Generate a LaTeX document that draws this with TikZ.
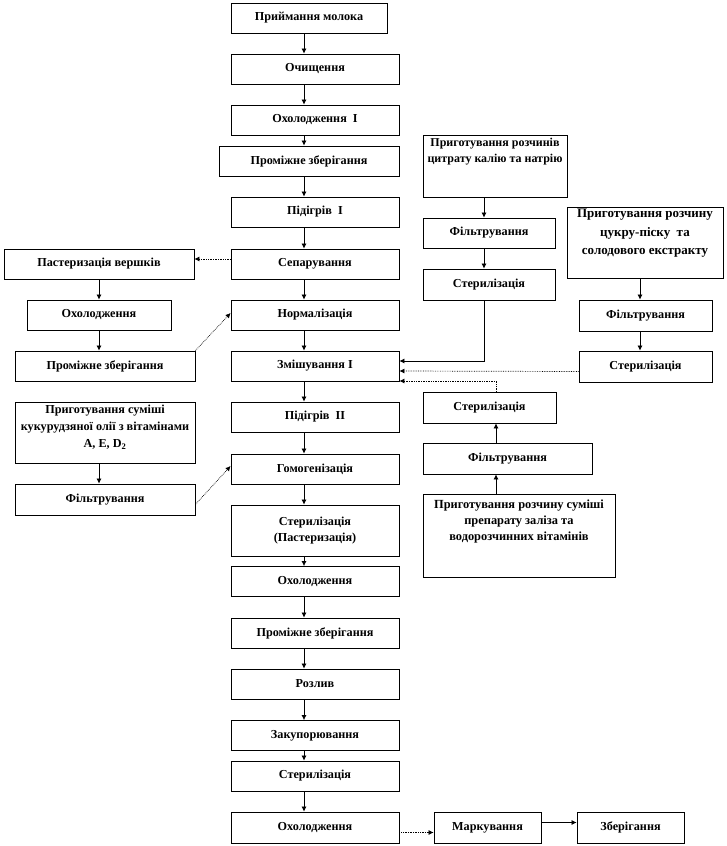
\documentclass[tikz,border=0pt]{standalone}
\usepackage{fontspec}
\setmainfont{Liberation Serif}
\usetikzlibrary{arrows.meta}
\tikzset{
  box/.style={draw=black, line width=0.8pt, fill=white, inner sep=0pt, align=center,
    font=\bfseries\fontsize{12.2}{14}\selectfont},
  arr/.style={line width=0.7pt, -{Latex[length=5pt,width=5pt]}},
  darr/.style={arr, densely dotted},
}
\newcommand{\topbox}[3]{\parbox[c][#1][t]{#2}{\centering #3}}
\begin{document}
\begin{tikzpicture}[x=1pt,y=-1pt]
\useasboundingbox (0,0) rectangle (726,846);
% axis coordinates for connectors
\coordinate (mx) at (304,0);
\coordinate (lx) at (99,0);
\coordinate (cx) at (484,0);
\coordinate (sx) at (640,0);
\coordinate (ix) at (496,0);
% main column
\node[box, minimum width=156pt, minimum height=30pt] (m1) at (309,18) {Приймання молока};
\node[box, minimum width=168pt, minimum height=30pt] (m2) at (315,69) {Очищення};
\node[box, minimum width=168pt, minimum height=30pt] (m3) at (315,120) {Охолодження\ \ І};
\node[box, minimum width=180pt, minimum height=30pt] (m4) at (309,161) {Проміжне зберігання};
\node[box, minimum width=168pt, minimum height=30pt] (m5) at (315,212) {Підігрів\ \ І};
\node[box, minimum width=168pt, minimum height=30pt] (m6) at (315,264) {Сепарування};
\node[box, minimum width=168pt, minimum height=30pt] (m7) at (315,315) {Нормалізація};
\node[box, minimum width=168pt, minimum height=30pt] (m8) at (315,366) {Змішування І};
\node[box, minimum width=168pt, minimum height=30pt] (m9) at (315,417) {Підігрів\ \ ІІ};
\node[box, minimum width=168pt, minimum height=30pt] (m10) at (315,469) {Гомогенізація};
\node[box, minimum width=168pt, minimum height=51pt] (m11) at (315,530.5) {Стерилізація\\[2pt](Пастеризація)};
\node[box, minimum width=168pt, minimum height=30pt] (m12) at (315,581.5) {Охолодження};
\node[box, minimum width=168pt, minimum height=30pt] (m13) at (315,633) {Проміжне зберігання};
\node[box, minimum width=168pt, minimum height=30pt] (m14) at (315,684) {Розлив};
\node[box, minimum width=168pt, minimum height=30pt] (m15) at (315,735.5) {Закупорювання};
\node[box, minimum width=168pt, minimum height=30pt] (m16) at (315,776) {Стерилізація};
\node[box, minimum width=168pt, minimum height=31pt] (m17) at (315,827.5) {Охолодження};
\node[box, minimum width=107pt, minimum height=31pt] (mark) at (487.5,827.5) {Маркування};
\node[box, minimum width=107pt, minimum height=31pt] (store) at (630.5,827.5) {Зберігання};
% left column
\node[box, minimum width=190pt, minimum height=30pt] (p1) at (99,264) {Пастеризація вершків};
\node[box, minimum width=144pt, minimum height=30pt] (p2) at (99,315) {Охолодження};
\node[box, minimum width=180pt, minimum height=30pt] (p3) at (105,366) {Проміжне зберігання};
\node[box, minimum width=180pt, minimum height=61pt] (o1) at (105,432.5)
  {\topbox{59pt}{178pt}{\vspace{2pt}Приготування суміші\\[3pt]кукурудзяної олії з вітамінами\\[3pt]A, E, D\textsubscript{2}}};
\node[box, minimum width=180pt, minimum height=31pt] (o2) at (105,499.5) {Фільтрування};
% right column 1
\node[box, minimum width=144pt, minimum height=62pt] (c1) at (495,166)
  {\topbox{60pt}{142pt}{\fontsize{12}{16}\selectfont\vspace{2pt}Приготування розчинів\\цитрату калію та натрію}};
\node[box, minimum width=132pt, minimum height=30pt] (c2) at (489,233) {Фільтрування};
\node[box, minimum width=132pt, minimum height=31pt] (c3) at (489,284.5) {Стерилізація};
% right column 2
\node[box, minimum width=156pt, minimum height=71pt] (s1) at (645,242.5)
  {\topbox{69pt}{154pt}{\fontsize{13}{18.5}\selectfont\vspace{1pt}Приготування розчину\\цукру-піску\ \ та\\солодового екстракту}};
\node[box, minimum width=133pt, minimum height=31pt] (s2) at (645.5,315.5) {Фільтрування};
\node[box, minimum width=133pt, minimum height=31pt] (s3) at (645.5,366.5) {Стерилізація};
% right column 1 lower
\node[box, minimum width=133pt, minimum height=31pt] (i3) at (489.5,407.5) {Стерилізація};
\node[box, minimum width=169pt, minimum height=31pt] (i2) at (507.5,458.5) {Фільтрування};
\node[box, minimum width=192pt, minimum height=83pt] (i1) at (519,535.5)
  {\topbox{81pt}{190pt}{\fontsize{12.4}{16}\selectfont\vspace{5pt}Приготування розчину суміші\\препарату заліза та\\водорозчинних вітамінів}};
% main connectors
\foreach \a/\b in {m1/m2,m2/m3,m3/m4,m4/m5,m5/m6,m6/m7,m7/m8,m8/m9,m9/m10,m10/m11,m11/m12,m12/m13,m13/m14,m14/m15,m15/m16,m16/m17}
  \draw[arr] (\a.south -| mx) -- (\b.north -| mx);
\draw[darr] ([yshift=-5pt]m17.east) -- ([yshift=-5pt]mark.west);
\draw[arr] ([yshift=5pt]mark.east) -- ([yshift=5pt]store.west);
% left connectors
\draw[darr] ([yshift=5pt]m6.west) -- ([yshift=5pt]p1.east);
\draw[arr] (p1.south -| lx) -- (p2.north -| lx);
\draw[arr] (p2.south -| lx) -- (p3.north -| lx);
\draw[darr] (p3.north east) -- ([yshift=2pt]m7.west);
\draw[arr] (o1.south -| lx) -- (o2.north -| lx);
\draw[darr] ([yshift=-5pt]o2.east) -- ([yshift=3pt]m10.west);
% right connectors
\draw[arr] (c1.south -| cx) -- (c2.north -| cx);
\draw[arr] (c2.south -| cx) -- (c3.north -| cx);
\draw[arr] (c3.south -| cx) |- ([yshift=5pt]m8.east);
\draw[arr] (s1.south -| sx) -- (s2.north -| sx);
\draw[arr] (s2.south -| sx) -- (s3.north -| sx);
\draw[darr] ([yshift=-5pt]s3.west) -- ([yshift=-5pt]m8.east);
\draw[arr] (i1.north -| ix) -- (i2.south -| ix);
\draw[arr] (i2.north -| ix) -- (i3.south -| ix);
\draw[darr] (i3.north -| ix) |- ([yshift=-15pt]m8.east);
\end{tikzpicture}
\end{document}
